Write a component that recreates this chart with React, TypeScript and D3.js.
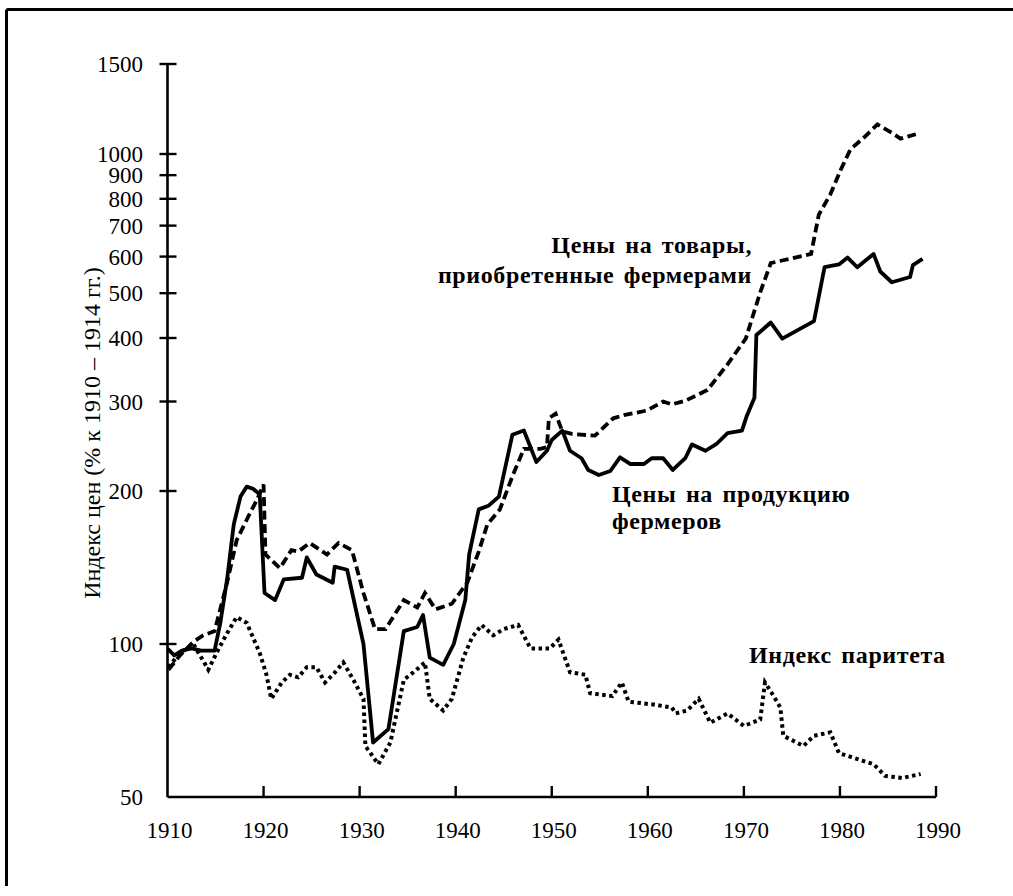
import React from "react";
import * as d3 from "d3";

// ---- Data ----
// Prices paid by farmers (dashed)
const paidYears = [1910.1, 1911.3, 1912.7, 1913.7, 1914.9, 1916.2, 1917.2, 1918.4, 1919.3, 1920.0, 1920.2, 1921.7, 1922.9, 1923.6, 1924.8, 1926.6, 1927.8, 1929.2, 1930.4, 1931.6, 1932.7, 1934.6, 1936.0, 1936.8, 1937.9, 1939.6, 1941.2, 1942.4, 1943.3, 1944.6, 1946.0, 1947.1, 1948.8, 1949.5, 1949.7, 1950.4, 1951.1, 1952.1, 1954.5, 1956.4, 1957.5, 1959.9, 1961.6, 1962.5, 1963.9, 1966.2, 1968.3, 1970.2, 1971.7, 1972.8, 1977.0, 1977.8, 1979.0, 1980.1, 1981.1, 1982.5, 1983.9, 1985.1, 1986.3, 1987.9];
const paidValues = [89, 95, 101, 104, 106, 132, 160, 178, 192, 206, 150, 141, 153, 152, 158, 150, 158, 153, 126, 107, 107, 122, 118, 126, 117, 120, 132, 152, 172, 184, 216, 242, 242, 244, 278, 284, 262, 259, 257, 278, 282, 288, 300, 296, 301, 316, 355, 399, 502, 581, 608, 739, 818, 926, 1022, 1077, 1143, 1109, 1072, 1093];

// Prices received by farmers (solid)
const receivedYears = [1910.0, 1910.7, 1911.5, 1912.5, 1913.5, 1914.9, 1915.5, 1916.2, 1916.9, 1917.6, 1918.25, 1918.9, 1919.6, 1920.1, 1921.2, 1922.1, 1924.0, 1924.5, 1925.5, 1927.2, 1927.4, 1928.7, 1930.4, 1931.4, 1933.0, 1934.6, 1936.0, 1936.6, 1937.3, 1938.7, 1939.8, 1941.0, 1941.4, 1942.4, 1943.4, 1944.5, 1945.9, 1947.1, 1948.4, 1949.5, 1950.0, 1951.1, 1951.9, 1953.1, 1953.8, 1954.9, 1956.1, 1957.1, 1958.2, 1959.6, 1960.4, 1961.6, 1962.6, 1963.9, 1964.6, 1966.0, 1967.2, 1968.3, 1969.8, 1970.3, 1971.1, 1971.3, 1972.8, 1974.0, 1977.3, 1978.4, 1979.9, 1980.8, 1981.8, 1983.5, 1984.2, 1985.4, 1987.3, 1987.6, 1988.6];
const receivedValues = [98, 95, 97, 98, 97, 97, 110, 134, 172, 195, 204, 202, 197, 126, 122, 134, 135, 148, 137, 132, 142, 140, 100, 64, 68, 106, 108, 114, 94, 91, 100, 122, 150, 184, 187, 195, 258, 263, 228, 240, 252, 263, 240, 232, 220, 215, 219, 233, 226, 226, 232, 232, 220, 232, 247, 240, 248, 260, 263, 281, 305, 406, 432, 399, 435, 569, 577, 597, 569, 608, 557, 528, 542, 575, 593];

// Parity index (dotted)
const parityYears = [1910.1, 1911.3, 1912.7, 1914.25, 1915.1, 1916.2, 1917.2, 1918.25, 1919.6, 1920.3, 1920.8, 1921.9, 1922.75, 1923.6, 1924.5, 1925.5, 1926.4, 1927.45, 1928.3, 1929.35, 1930.4, 1930.6, 1931.95, 1933.2, 1934.6, 1935.6, 1936.8, 1937.3, 1938.7, 1939.6, 1940.8, 1941.7, 1942.7, 1943.9, 1945.0, 1946.5, 1947.8, 1949.8, 1950.7, 1951.9, 1953.5, 1954.0, 1956.3, 1957.3, 1958.0, 1960.6, 1962.5, 1962.9, 1964.1, 1965.3, 1966.5, 1968.3, 1970.0, 1971.7, 1972.2, 1973.1, 1973.8, 1974.1, 1976.2, 1977.3, 1979.0, 1979.9, 1983.5, 1984.7, 1986.5, 1988.4];
const parityValues = [90, 96, 100, 89, 96, 105, 113, 110, 96, 87, 78, 84, 87, 86, 90, 90, 84, 88, 92, 85, 78, 63, 58, 64, 85, 88, 92, 78, 74, 78, 94, 103, 109, 104, 107, 109, 98, 98, 102, 88, 87, 80, 79, 84, 77, 76, 75, 73, 74, 78, 70, 73, 69, 71, 84, 79, 75, 66, 63, 66, 67, 61, 58, 55, 54.5, 55.5];

const xTicks = [1910, 1920, 1930, 1940, 1950, 1960, 1970, 1980, 1990];
const yTicks = [50, 100, 200, 300, 400, 500, 600, 700, 800, 900, 1000, 1500];

const yTitle = "Индекс цен (% к 1910 – 1914 гг.)";
const labelPaid = ["Цены на товары,", "приобретенные фермерами"];
const labelReceived = ["Цены на продукцию", "фермеров"];
const labelParity = "Индекс паритета";

const FONT = "'Liberation Serif', 'Times New Roman', serif";

export default function App() {
  const x = d3.scaleLinear().domain([1910, 1990]).range([167.5, 936]);
  const y = d3.scaleLog().domain([50, 400, 1000, 1500]).range([797, 338, 154, 64]);

  const mk = (ys: number[], vs: number[]) =>
    d3
      .line<number>()
      .x((_, i) => x(ys[i]))
      .y((v) => y(v))(vs) || "";

  const axisY = 797;
  const axisX = 167.5;

  return (
    <svg
      width={1013}
      height={896}
      style={{ position: "absolute", left: 0, top: 0, background: "#fff" }}
      fontFamily={FONT}
    >
      <rect x={0} y={0} width={1013} height={896} fill="#fff" />
      {/* frame */}
      <line x1={6.5} y1={9.5} x2={1013} y2={9.5} stroke="#000" strokeWidth={3} />
      <line x1={6.5} y1={9.5} x2={6.5} y2={886} stroke="#000" strokeWidth={3} />

      {/* axes */}
      <line x1={axisX} y1={axisY} x2={x(1990)} y2={axisY} stroke="#000" strokeWidth={2.6} />
      <line x1={axisX} y1={axisY} x2={axisX} y2={y(1500)} stroke="#000" strokeWidth={2.6} />

      {xTicks.map((t) => (
        <g key={"xt" + t}>
          {t !== 1910 && (
            <line x1={x(t)} x2={x(t)} y1={axisY} y2={axisY - 11} stroke="#000" strokeWidth={2.4} />
          )}
          <text x={x(t) + 2} y={838} textAnchor="middle" fontSize={23} fill="#000">
            {t}
          </text>
        </g>
      ))}

      {yTicks.map((t) => (
        <g key={"yt" + t}>
          {t !== 50 && (
            <line x1={axisX - 8} x2={axisX + 9} y1={y(t)} y2={y(t)} stroke="#000" strokeWidth={2.4} />
          )}
          <text x={143} y={y(t) + 8} textAnchor="end" fontSize={23} fill="#000">
            {t}
          </text>
        </g>
      ))}

      <text
        transform={`translate(100, 433) rotate(-90)`}
        textAnchor="middle"
        fontSize={24}
        fill="#000"
      >
        {yTitle}
      </text>

      {/* series */}
      <path d={mk(paidYears, paidValues)} fill="none" stroke="#000" strokeWidth={3.8} strokeDasharray="9 4.5" />
      <path d={mk(receivedYears, receivedValues)} fill="none" stroke="#000" strokeWidth={3.8} strokeLinejoin="round" />
      <path d={mk(parityYears, parityValues)} fill="none" stroke="#000" strokeWidth={4} strokeDasharray="3.5 3.5" />

      {/* annotations */}
      <g fontSize={24} fontWeight="bold" fill="#000" letterSpacing={0.6} wordSpacing={3}>
        <text x={752} y={253} textAnchor="end">{labelPaid[0]}</text>
        <text x={752} y={283} textAnchor="end">{labelPaid[1]}</text>
        <text x={612} y={502} textAnchor="start">{labelReceived[0]}</text>
        <text x={612} y={529} textAnchor="start">{labelReceived[1]}</text>
        <text x={749} y={663} textAnchor="start">{labelParity}</text>
      </g>
    </svg>
  );
}
